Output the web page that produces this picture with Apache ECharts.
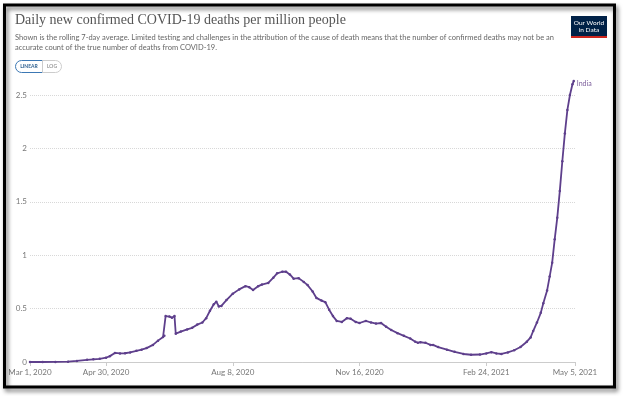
<!DOCTYPE html>
<html>
<head>
<meta charset="utf-8">
<script src="https://cdn.jsdelivr.net/npm/echarts@6/dist/echarts.min.js"></script>
<style>
  html, body { margin: 0; padding: 0; background: #fff; }
  #chart { width: 624px; height: 396px; }
</style>
</head>
<body>
<div id="chart"></div>
<script>
// 日期 (7日滚动平均，每百万人死亡数)
var dates = [
  '2020-03-01','2020-03-11','2020-03-21','2020-03-31','2020-04-07','2020-04-15','2020-04-20','2020-04-25',
  '2020-04-30','2020-05-03','2020-05-07','2020-05-11','2020-05-15','2020-05-19','2020-05-24','2020-05-28',
  '2020-06-01','2020-06-06','2020-06-10','2020-06-14','2020-06-15','2020-06-16','2020-06-19','2020-06-21',
  '2020-06-23','2020-06-24','2020-06-28','2020-07-03','2020-07-07','2020-07-11','2020-07-15','2020-07-18',
  '2020-07-21','2020-07-24','2020-07-26','2020-07-28','2020-07-30','2020-08-03','2020-08-08','2020-08-13',
  '2020-08-18','2020-08-21','2020-08-24','2020-08-28','2020-08-31','2020-09-05','2020-09-09','2020-09-12',
  '2020-09-16','2020-09-19','2020-09-22','2020-09-25','2020-09-29','2020-10-03','2020-10-06','2020-10-10',
  '2020-10-13','2020-10-17','2020-10-20','2020-10-23','2020-10-26','2020-10-29','2020-11-02','2020-11-06',
  '2020-11-09','2020-11-13','2020-11-16','2020-11-21','2020-11-25','2020-11-29','2020-12-03','2020-12-07',
  '2020-12-11','2020-12-16','2020-12-21','2020-12-26','2020-12-30','2021-01-01','2021-01-03','2021-01-07',
  '2021-01-11','2021-01-13','2021-01-17','2021-01-24','2021-01-30','2021-02-06','2021-02-12','2021-02-19',
  '2021-02-24','2021-02-28','2021-03-04','2021-03-08','2021-03-13','2021-03-18','2021-03-23','2021-03-28',
  '2021-03-31','2021-04-02','2021-04-05','2021-04-08','2021-04-10','2021-04-13','2021-04-15','2021-04-17',
  '2021-04-19','2021-04-21','2021-04-23','2021-04-25','2021-04-27','2021-04-29','2021-05-01','2021-05-03',
  '2021-05-04'
];
var deaths = [
  0, 0, 0.001, 0.003, 0.01, 0.02, 0.025, 0.03,
  0.04, 0.055, 0.085, 0.08, 0.082, 0.09, 0.105, 0.115,
  0.13, 0.16, 0.2, 0.235, 0.245, 0.43, 0.425, 0.415,
  0.43, 0.265, 0.285, 0.305, 0.32, 0.35, 0.37, 0.41,
  0.48, 0.54, 0.565, 0.52, 0.525, 0.58, 0.64, 0.68,
  0.71, 0.70, 0.675, 0.71, 0.725, 0.74, 0.79, 0.83,
  0.845, 0.845, 0.82, 0.78, 0.785, 0.75, 0.72, 0.66,
  0.6, 0.575, 0.56, 0.49, 0.43, 0.385, 0.375, 0.41,
  0.405, 0.375, 0.365, 0.385, 0.37, 0.36, 0.365, 0.33,
  0.30, 0.27, 0.245, 0.22, 0.19, 0.18, 0.185, 0.18,
  0.16, 0.16, 0.14, 0.115, 0.095, 0.075, 0.068, 0.07,
  0.08, 0.092, 0.08, 0.075, 0.09, 0.11, 0.14, 0.19,
  0.23, 0.29, 0.37, 0.46, 0.55, 0.67, 0.80, 0.93,
  1.15, 1.35, 1.6, 1.88, 2.14, 2.36, 2.5, 2.6,
  2.63
];
// x轴刻度
var xTicks = ['2020-03-01','2020-04-30','2020-08-08','2020-11-16','2021-02-24','2021-05-05'];
var MONTHS = ['Jan','Feb','Mar','Apr','May','Jun','Jul','Aug','Sep','Oct','Nov','Dec'];

function toTs(s) {
  var p = s.split('-');
  return Date.UTC(+p[0], +p[1] - 1, +p[2]);
}
function fmtDate(v) {
  var d = new Date(v);
  return MONTHS[d.getUTCMonth()] + ' ' + d.getUTCDate() + ', ' + d.getUTCFullYear();
}

var seriesData = dates.map(function(d, i) { return [toTs(d), deaths[i]]; });
var tickValues = xTicks.map(toTs);

var lineColor = '#5e3f8c';
var chart = echarts.init(document.getElementById('chart'));

var option = {
  animation: false,
  textStyle: { fontFamily: 'Lato' },
  grid: { left: 30, right: 49, top: 95, bottom: 34 },
  xAxis: {
    type: 'value',
    min: tickValues[0],
    max: tickValues[tickValues.length - 1],
    axisLine: { lineStyle: { color: '#ccc' } },
    axisTick: { show: true, length: 4, customValues: tickValues, lineStyle: { color: '#ccc' } },
    axisLabel: {
      customValues: tickValues,
      formatter: fmtDate,
      color: '#777',
      fontSize: 8,
      margin: 6
    },
    splitLine: { show: false }
  },
  yAxis: {
    type: 'value',
    min: 0,
    max: 2.5,
    interval: 0.5,
    axisLine: { show: false },
    axisTick: { show: false },
    axisLabel: { color: '#777', fontSize: 8, margin: 3 },
    splitLine: { lineStyle: { color: '#d8d8d8', type: 'dotted' } }
  },
  series: [{
    name: 'India',
    type: 'line',
    data: seriesData,
    clip: false,
    showSymbol: true,
    symbol: 'circle',
    symbolSize: 2.5,
    itemStyle: { color: lineColor },
    lineStyle: { color: lineColor, width: 1.8 },
    endLabel: {
      show: true,
      formatter: 'India',
      color: '#7a5c9a',
      fontSize: 7,
      distance: 3,
      offset: [0, 3]
    }
  }],
  graphic: [
    // 外框
    {
      type: 'rect',
      shape: { x: 4.5, y: 5, width: 610, height: 382 },
      style: {
        fill: null,
        stroke: '#000',
        lineWidth: 3,
        shadowBlur: 4,
        shadowOffsetX: 2,
        shadowOffsetY: 3,
        shadowColor: 'rgba(0,0,0,0.55)'
      },
      z: 100
    },
    // 标题
    {
      type: 'text',
      left: 15,
      top: 13,
      style: {
        text: 'Daily new confirmed COVID-19 deaths per million people',
        font: '14px "Liberation Serif"',
        fill: '#555'
      }
    },
    {
      type: 'text',
      left: 15,
      top: 33,
      style: {
        text: 'Shown is the rolling 7-day average. Limited testing and challenges in the attribution of the cause of death means that the number of confirmed deaths may not be an\naccurate count of the true number of deaths from COVID-19.',
        font: '7.5px Lato',
        lineHeight: 9.5,
        fill: '#666'
      }
    },
    // LINEAR / LOG 按钮
    {
      type: 'rect',
      shape: { x: 15.5, y: 60.5, width: 27, height: 12, r: [6, 0, 0, 6] },
      style: { fill: '#fff', stroke: '#3c78b4', lineWidth: 1 }
    },
    {
      type: 'rect',
      shape: { x: 42.5, y: 60.5, width: 19, height: 12, r: [0, 6, 6, 0] },
      style: { fill: '#fff', stroke: '#ccc', lineWidth: 1 }
    },
    {
      type: 'text',
      x: 29, y: 66.5,
      style: { text: 'LINEAR', font: 'bold 5px Lato', fill: '#2d5f8f', align: 'center', verticalAlign: 'middle' }
    },
    {
      type: 'text',
      x: 52, y: 66.5,
      style: { text: 'LOG', font: '5px Lato', fill: '#777', align: 'center', verticalAlign: 'middle' }
    },
    // Our World in Data 标志
    {
      type: 'rect',
      shape: { x: 571, y: 16, width: 36, height: 22 },
      style: { fill: '#002147' }
    },
    {
      type: 'rect',
      shape: { x: 571, y: 36, width: 36, height: 2 },
      style: { fill: '#ce261e' }
    },
    {
      type: 'text',
      x: 589, y: 26,
      style: {
        text: 'Our World\nin Data',
        font: '6.5px Lato',
        lineHeight: 7,
        fill: '#fff',
        align: 'center',
        verticalAlign: 'middle'
      }
    }
  ]
};

chart.setOption(option);
</script>
</body>
</html>
